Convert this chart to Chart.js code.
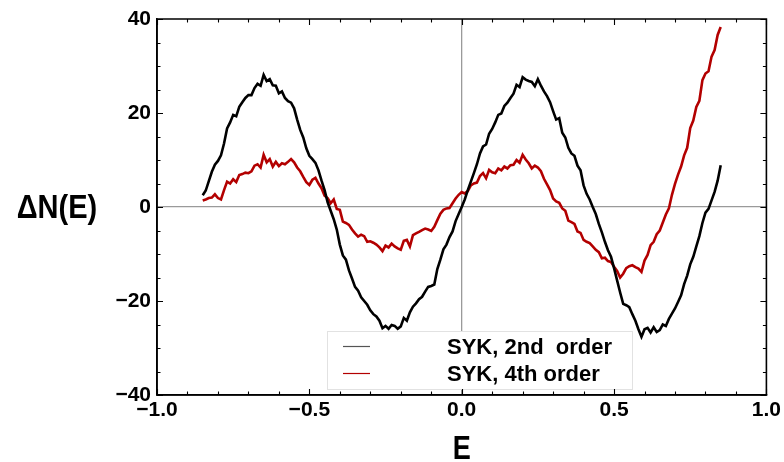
<!DOCTYPE html>
<html>
<head>
<meta charset="utf-8">
<script src="https://cdn.jsdelivr.net/npm/chart.js@4.4.1/dist/chart.umd.min.js"></script>
<style>
    html, body { margin: 0; padding: 0; background: #fff; }
    #wrap { width: 784px; height: 462px; }
</style>
</head>
<body>
<div id="wrap"><canvas id="dosChart" width="784" height="462"></canvas></div>
<script>
// energies (x)
const energies = [
    -0.85, -0.84, -0.83, -0.82, -0.81, -0.80, -0.79, -0.78, -0.77, -0.76,
    -0.75, -0.74, -0.73, -0.72, -0.71, -0.70, -0.69, -0.68, -0.67, -0.66,
    -0.65, -0.64, -0.63, -0.62, -0.61, -0.60, -0.59, -0.58, -0.57, -0.56,
    -0.55, -0.54, -0.53, -0.52, -0.51, -0.50, -0.49, -0.48, -0.47, -0.46,
    -0.45, -0.44, -0.43, -0.42, -0.41, -0.40, -0.39, -0.38, -0.37, -0.36,
    -0.35, -0.34, -0.33, -0.32, -0.31, -0.30, -0.29, -0.28, -0.27, -0.26,
    -0.25, -0.24, -0.23, -0.22, -0.21, -0.20, -0.19, -0.18, -0.17, -0.16,
    -0.15, -0.14, -0.13, -0.12, -0.11, -0.10, -0.09, -0.08, -0.07, -0.06,
    -0.05, -0.04, -0.03, -0.02, -0.01, 0.00, 0.01, 0.02, 0.03, 0.04,
    0.05, 0.06, 0.07, 0.08, 0.09, 0.10, 0.11, 0.12, 0.13, 0.14,
    0.15, 0.16, 0.17, 0.18, 0.19, 0.20, 0.21, 0.22, 0.23, 0.24,
    0.25, 0.26, 0.27, 0.28, 0.29, 0.30, 0.31, 0.32, 0.33, 0.34,
    0.35, 0.36, 0.37, 0.38, 0.39, 0.40, 0.41, 0.42, 0.43, 0.44,
    0.45, 0.46, 0.47, 0.48, 0.49, 0.50, 0.51, 0.52, 0.53, 0.54,
    0.55, 0.56, 0.57, 0.58, 0.59, 0.60, 0.61, 0.62, 0.63, 0.64,
    0.65, 0.66, 0.67, 0.68, 0.69, 0.70, 0.71, 0.72, 0.73, 0.74,
    0.75, 0.76, 0.77, 0.78, 0.79, 0.80, 0.81, 0.82, 0.83, 0.84,
    0.85
];

// SYK, 2nd order (black)
const syk2nd = [
    2.5, 3.5, 5.5, 7.5, 9.0, 9.8, 11.0, 13.5, 16.7, 18.0,
    19.6, 19.3, 21.3, 22.3, 23.2, 23.8, 23.8, 25.3, 26.2, 25.8,
    28.1, 26.8, 27.2, 25.9, 25.8, 24.2, 24.6, 23.2, 22.5, 22.2,
    21.0, 18.6, 16.4, 14.8, 12.5, 10.9, 10.2, 9.4, 7.8, 5.6,
    3.6, 1.0, -0.8, -2.6, -4.8, -8.0, -10.3, -11.2, -13.5, -15.2,
    -17.0, -17.8, -19.2, -20.0, -20.8, -22.0, -22.8, -23.3, -24.2, -25.8,
    -25.3, -25.9, -25.1, -25.3, -25.9, -25.4, -23.6, -24.2, -22.4, -21.2,
    -20.5, -19.6, -19.1, -18.0, -17.0, -16.8, -16.5, -13.2, -11.2, -9.0,
    -8.0, -6.4, -5.2, -3.0, -1.5, 0.0, 1.6, 3.6, 5.4, 7.2,
    9.1, 11.4, 12.9, 13.3, 15.6, 16.6, 18.0, 19.6, 19.9, 21.5,
    22.2, 23.2, 24.1, 26.0, 25.5, 27.6, 27.1, 26.8, 26.6, 25.7,
    27.2, 25.8, 24.6, 23.6, 22.3, 20.4, 18.6, 18.9, 15.8, 14.8,
    12.6, 11.4, 10.9, 8.8, 7.8, 4.6, 2.8, 1.6, 0.0, -1.5,
    -3.6, -5.4, -7.4, -9.2, -10.6, -13.0, -15.6, -18.2, -20.6, -20.9,
    -21.3, -22.8, -24.2, -26.0, -27.6, -26.0, -25.7, -26.7, -25.6, -26.6,
    -26.2, -25.0, -25.3, -23.8, -22.7, -21.6, -20.2, -18.8, -16.4, -14.6,
    -12.2, -10.6, -8.4, -6.2, -3.4, -1.2, -0.4, 1.4, 3.2, 5.6,
    8.9
];

// SYK, 4th order (red)
const syk4th = [
    1.4, 1.6, 1.9, 2.0, 2.7, 1.9, 1.6, 3.6, 5.4, 5.0,
    5.9, 5.3, 6.8, 7.0, 7.3, 7.2, 7.6, 8.8, 9.1, 8.4,
    11.1, 9.5, 10.2, 8.6, 9.6, 8.7, 9.3, 9.1, 9.6, 10.2,
    9.5, 8.4, 7.6, 6.4, 5.3, 4.7, 5.8, 6.2, 5.0, 4.0,
    2.4, 1.9, 0.8, 1.6, -0.4, -0.6, -3.1, -3.4, -3.8, -4.8,
    -5.6, -6.3, -5.9, -6.2, -7.4, -7.3, -7.6, -8.0, -8.6, -9.4,
    -8.2, -8.6, -7.8, -8.4, -8.8, -9.1, -7.2, -7.0, -8.4, -6.0,
    -5.6, -5.3, -4.9, -4.6, -4.8, -5.1, -4.2, -2.8, -1.4, -0.6,
    -0.3, -0.2, 0.8, 1.8, 2.6, 3.2, 2.9, 3.4, 4.6, 5.0,
    5.2, 6.6, 7.2, 6.1, 7.9, 7.4, 7.2, 8.2, 7.8, 8.6,
    8.2, 8.9, 9.0, 10.0, 9.4, 11.1, 10.1, 9.3, 8.2, 8.8,
    8.4, 7.6, 6.0, 4.8, 3.6, 1.8, 1.2, 0.9, -0.3, -0.8,
    -2.9, -3.2, -3.6, -5.2, -5.5, -7.0, -7.4, -7.7, -8.4, -9.1,
    -9.6, -10.9, -10.8, -11.5, -11.7, -12.7, -13.6, -15.0, -14.2, -13.0,
    -12.6, -12.4, -12.8, -13.1, -13.8, -11.4, -10.2, -8.1, -7.4, -5.8,
    -5.0, -3.3, -1.6, -0.3, 2.6, 4.9, 6.9, 8.6, 11.0, 12.6,
    16.8, 18.4, 21.3, 22.6, 27.0, 28.4, 28.9, 32.0, 33.4, 36.6,
    38.3
];

const seriesLabels = ['SYK, 2nd  order', 'SYK, 4th order'];
const seriesColors = ['#000000', '#b30000'];
const legendColors = ['#555555', '#b30000'];

const xTickValues = [-1.0, -0.5, 0.0, 0.5, 1.0];
const yTickValues = [-40, -20, 0, 20, 40];

const xTitle = 'E';
const yTitle = '\u0394N(E)';

function toPoints(xs, ys) {
    return xs.map((x, i) => ({ x: x, y: ys[i] }));
}

function fmtMinus(v, digits) {
    const s = Math.abs(v).toFixed(digits);
    return v < 0 ? '\u2212' + s : s;
}

// frame, inward ticks, titles and legend
const framePlugin = {
    id: 'frame',
    afterDraw(chart) {
        const ctx = chart.ctx;
        const xs = chart.scales.x;
        const ys = chart.scales.y;
        const left = xs.left;
        const right = xs.right;
        const top = ys.top;
        const bottom = ys.bottom;

        ctx.save();
        ctx.setLineDash([]);
        ctx.globalAlpha = 1;

        // legend box (drawn over the curves)
        const lx = left + 170;
        const ly = top + 312;
        ctx.fillStyle = '#ffffff';
        ctx.fillRect(lx, ly, 305, 58);
        ctx.strokeStyle = '#e2e2e2';
        ctx.lineWidth = 1;
        ctx.strokeRect(lx + 0.5, ly + 0.5, 305, 58);

        ctx.font = 'bold 22px "Liberation Sans", Arial, sans-serif';
        ctx.textBaseline = 'alphabetic';
        ctx.textAlign = 'left';
        chart.data.datasets.forEach((ds, i) => {
            const rowY = ly + 15 + i * 27;
            ctx.strokeStyle = legendColors[i];
            ctx.lineWidth = 1.2;
            ctx.beginPath();
            ctx.moveTo(lx + 16, rowY + 0.5);
            ctx.lineTo(lx + 43, rowY + 0.5);
            ctx.stroke();
            ctx.fillStyle = '#000000';
            ctx.fillText(ds.label, lx + 120, rowY + 8);
        });

        // frame
        ctx.strokeStyle = '#000000';
        ctx.lineWidth = 1.6;
        ctx.beginPath();
        ctx.rect(left, top, right - left, bottom - top);
        ctx.stroke();

        // ticks pointing inward
        ctx.lineWidth = 1.1;
        ctx.beginPath();
        for (let i = -10; i <= 10; i++) {
            const px = Math.round(xs.getPixelForValue(i / 10)) + 0.5;
            const len = (i % 5 === 0) ? 6 : 3.5;
            ctx.moveTo(px, bottom);
            ctx.lineTo(px, bottom - len);
            ctx.moveTo(px, top);
            ctx.lineTo(px, top + len);
        }
        for (let v = -40; v <= 40; v += 5) {
            const py = Math.round(ys.getPixelForValue(v)) + 0.5;
            const len = (v % 20 === 0) ? 6 : 3.5;
            ctx.moveTo(left, py);
            ctx.lineTo(left + len, py);
            ctx.moveTo(right, py);
            ctx.lineTo(right - len, py);
        }
        ctx.stroke();

        // axis titles
        ctx.fillStyle = '#000000';
        ctx.textAlign = 'center';
        ctx.textBaseline = 'alphabetic';

        ctx.save();
        ctx.translate(57, ys.getPixelForValue(0) + 11);
        ctx.scale(0.88, 1);
        ctx.font = 'bold 33px "Liberation Sans", Arial, sans-serif';
        ctx.fillText(yTitle, 0, 0);
        ctx.restore();

        ctx.save();
        ctx.translate((left + right) / 2, 459);
        ctx.scale(0.82, 1);
        ctx.font = 'bold 33px "Liberation Sans", Arial, sans-serif';
        ctx.fillText(xTitle, 0, 0);
        ctx.restore();

        ctx.restore();
    }
};

function createChart() {
    const ctx = document.getElementById('dosChart').getContext('2d');

    new Chart(ctx, {
        type: 'line',
        data: {
            datasets: [
                {
                    label: seriesLabels[0],
                    data: toPoints(energies, syk2nd),
                    borderColor: seriesColors[0],
                    borderWidth: 2.6,
                    pointRadius: 0,
                    tension: 0,
                    fill: false
                },
                {
                    label: seriesLabels[1],
                    data: toPoints(energies, syk4th),
                    borderColor: seriesColors[1],
                    borderWidth: 2.6,
                    pointRadius: 0,
                    tension: 0,
                    fill: false
                }
            ]
        },
        options: {
            responsive: false,
            animation: false,
            layout: {
                padding: { top: 19, right: 16, left: 0, bottom: 0 }
            },
            plugins: {
                legend: { display: false },
                tooltip: { enabled: false }
            },
            scales: {
                x: {
                    type: 'linear',
                    min: -1,
                    max: 1,
                    afterFit: (scale) => { scale.height = 67; },
                    afterBuildTicks: (scale) => {
                        scale.ticks = xTickValues.map(v => ({ value: v }));
                    },
                    border: { display: true, color: '#000000', width: 1.6 },
                    grid: {
                        drawTicks: false,
                        color: (c) => (c.tick && c.tick.value === 0) ? '#9a9a9a' : 'rgba(0,0,0,0)',
                        lineWidth: 1.3
                    },
                    ticks: {
                        padding: 3,
                        maxRotation: 0,
                        color: '#000',
                        font: { family: '"Liberation Sans", Arial, sans-serif', size: 21, weight: 'bold' },
                        callback: (v) => fmtMinus(v, 1)
                    }
                },
                y: {
                    min: -40,
                    max: 40,
                    afterFit: (scale) => { scale.width = 157; },
                    afterBuildTicks: (scale) => {
                        scale.ticks = yTickValues.map(v => ({ value: v }));
                    },
                    border: { display: true, color: '#000000', width: 1.6 },
                    grid: {
                        drawTicks: false,
                        color: (c) => (c.tick && c.tick.value === 0) ? '#9a9a9a' : 'rgba(0,0,0,0)',
                        lineWidth: 1.3
                    },
                    ticks: {
                        padding: 6,
                        color: '#000',
                        font: { family: '"Liberation Sans", Arial, sans-serif', size: 21, weight: 'bold' },
                        callback: (v) => fmtMinus(v, 0)
                    }
                }
            }
        },
        plugins: [framePlugin]
    });
}

document.addEventListener('DOMContentLoaded', createChart);
</script>
</body>
</html>
